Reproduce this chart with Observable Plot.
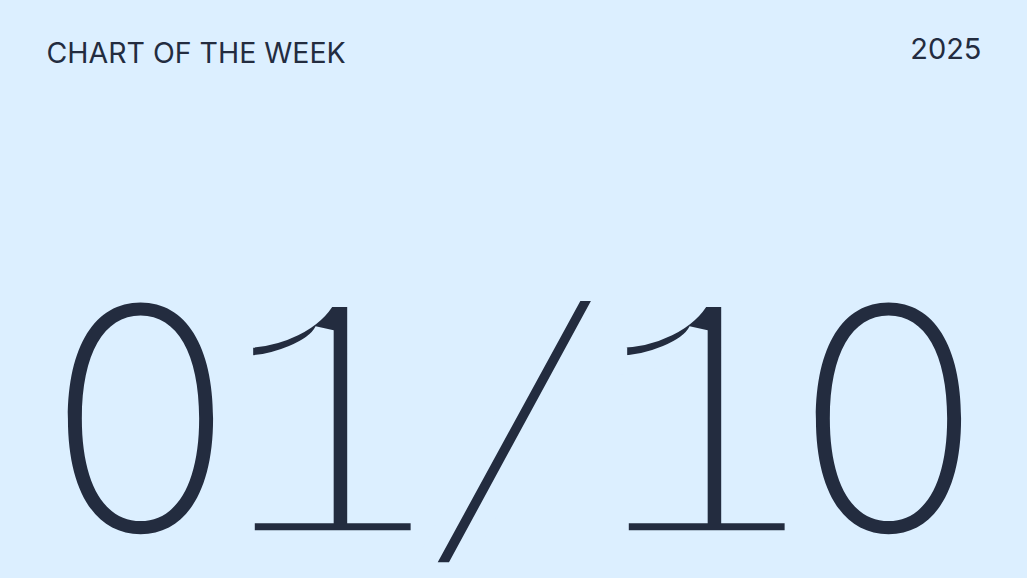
<!DOCTYPE html>
<html>
<head>
<meta charset="utf-8">
<script src="https://cdn.jsdelivr.net/npm/d3@7"></script>
<script src="https://cdn.jsdelivr.net/npm/@observablehq/plot@0.6"></script>
<style>
  html, body { margin: 0; padding: 0; background: #dcefff; overflow: hidden; }
</style>
</head>
<body>
<div id="chart"></div>
<script>
const title = ["CHART OF THE WEEK"];
const year = ["2025"];
const issueChars = ["0", "1", "/", "1", "0"];

const ink = "#232c3f";
const bg = "#dcefff";

const chart = Plot.plot({
  width: 1027,
  height: 578,
  margin: 0,
  style: { background: bg, overflow: "visible" },
  x: { type: "point", domain: d3.range(issueChars.length), padding: 0.742, axis: null },
  y: { axis: null },
  marks: [
    Plot.text(title, {
      text: d => d,
      frameAnchor: "top-left",
      textAnchor: "start",
      lineAnchor: "top",
      dx: 46,
      dy: 42,
      fontSize: 28.5,
      letterSpacing: -0.2,
      fontFamily: "Inter",
      fontWeight: 400,
      fill: ink
    }),
    Plot.text(year, {
      text: d => d,
      frameAnchor: "top-right",
      textAnchor: "end",
      lineAnchor: "top",
      dx: -46,
      dy: 38,
      fontSize: 29,
      fontFamily: "Inter",
      fontWeight: 400,
      fill: ink
    }),
    // zeros: thin grotesk oval
    Plot.text(issueChars, {
      filter: d => d === "0",
      x: (d, i) => i,
      text: d => d,
      frameAnchor: "top",
      lineAnchor: "top",
      dy: 310.5,
      fontSize: 310,
      fontFamily: "Inter",
      fontWeight: 155,
      fill: ink
    }),
    // ones: monospace with base, thinned by a background-coloured outline
    Plot.text(issueChars, {
      filter: d => d === "1",
      x: (d, i) => i,
      text: d => d,
      frameAnchor: "top",
      lineAnchor: "top",
      dy: 278,
      fontSize: 368,
      fontFamily: "Liberation Mono",
      fill: ink,
      stroke: bg,
      strokeWidth: 19,
      strokeLinejoin: "miter",
      paintOrder: "normal"
    }),
    // slash: monospace, thinned the same way
    Plot.text(issueChars, {
      filter: d => d === "/",
      x: (d, i) => i,
      text: d => d,
      frameAnchor: "top",
      lineAnchor: "top",
      dy: 296,
      fontSize: 383,
      fontFamily: "Liberation Mono",
      fill: ink,
      stroke: bg,
      strokeWidth: 20,
      strokeLinejoin: "miter",
      paintOrder: "normal"
    })
  ]
});
document.getElementById("chart").append(chart);
</script>
</body>
</html>
